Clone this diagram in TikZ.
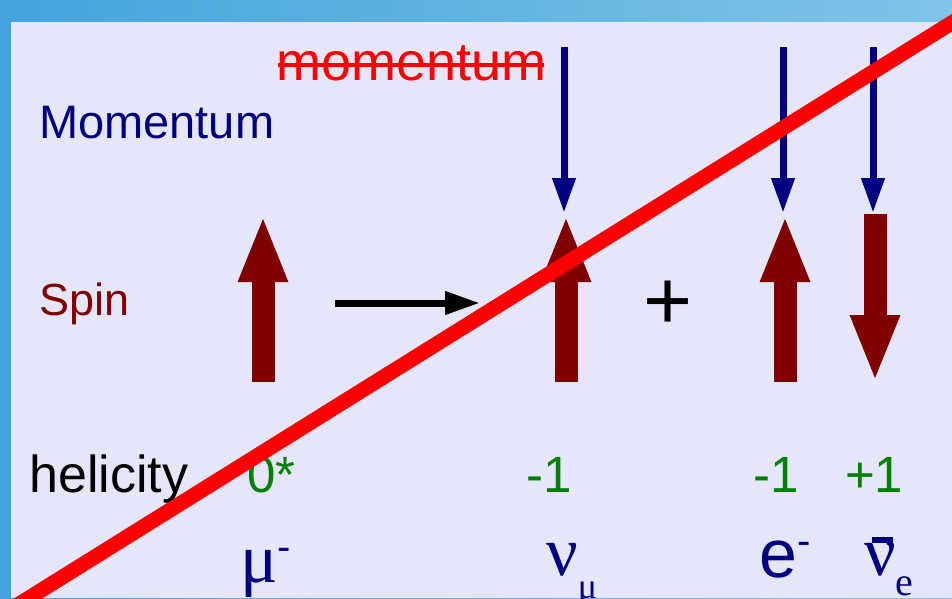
\documentclass[tikz,border=0pt]{standalone}
\usepackage{fontspec}
\setmainfont{Liberation Sans}
\newfontfamily\serifgreek{Liberation Serif}
\usetikzlibrary{arrows.meta}
\definecolor{navyblue}{RGB}{0,0,128}
\definecolor{spinred}{RGB}{128,0,0}
\definecolor{helgreen}{RGB}{0,128,0}
\definecolor{slidebg}{RGB}{230,230,250}
\definecolor{frameleft}{RGB}{68,163,220}
\definecolor{frameright}{RGB}{128,196,232}

\begin{document}
\begin{tikzpicture}[x=1pt, y=-1pt,
    spinarrow/.style={line width=23pt, spinred, -{Triangle[width=45pt,length=67pt]}},
    momarrow/.style={line width=7pt, navyblue, -{Triangle[width=22pt,length=35pt]}},
    decayarrow/.style={line width=7pt, black, -{Triangle[width=22pt,length=35pt]}},
    lbl/.style={anchor=base west, inner sep=0pt},
    hel/.style={lbl, helgreen, font=\fontsize{51}{51}\selectfont},
    particle/.style={lbl, navyblue, font=\serifgreek\fontsize{70}{70}\selectfont}]
    \useasboundingbox (0,0) rectangle (952,598);
    \shade[left color=frameleft, right color=frameright] (0,0) rectangle (952,598);
    \fill[slidebg] (11,22) rectangle (952,598);

    \node[lbl, navyblue, font=\fontsize{47}{47}\selectfont] (momlabel) at (39,138) {Momentum};
    \node[lbl, spinred, font=\fontsize{45}{45}\selectfont] (spinlabel) at (39,315) {Spin};
    \node[lbl, font=\fontsize{52}{52}\selectfont] (hellabel) at (29,492) {helicity};
    \node[lbl, red, font=\fontsize{54}{54}\selectfont] (strike) at (276,80) {momentum};
    \draw[red, line width=4pt] ([xshift=2pt,yshift=15pt]strike.base west)
        -- ([xshift=-2pt,yshift=15pt]strike.base east);

    % spin
    \draw[spinarrow] (263,382) -- (263,215);
    \draw[spinarrow] (566,382) -- (566,215);
    \draw[spinarrow] (785,382) -- (785,215);
    \draw[spinarrow] (875,214) -- (875,382);

    % momentum
    \draw[momarrow] (564,47) -- (564,213);
    \draw[momarrow] (783,47) -- (783,213);
    \draw[momarrow] (873,47) -- (873,213);

    \coordinate (decayfrom) at (335,303);
    \coordinate (decayto) at (480,303);
    \draw[decayarrow] (decayfrom) -- (decayto);
    \node[inner sep=0pt, font=\fontsize{84}{84}\selectfont] (plus) at (668,305) {+};

    \node[hel] (helmu) at (247,492) {0*};
    \node[hel] (helnumu) at (526,492) {-1};
    \node[hel] (hele) at (753,492) {-1};
    \node[hel] (helnue) at (845,492) {+1};

    \node[particle] (mu) at (240,582)
        {μ\raisebox{22pt}{\rmfamily\fontsize{40}{40}\selectfont -}};
    \node[particle] (numu) at (546,575)
        {ν\raisebox{-23pt}{\fontsize{36}{36}\selectfont μ}};
    \node[particle, font=\fontsize{68}{68}\selectfont] (elec) at (759,577)
        {e\raisebox{23pt}{\fontsize{40}{40}\selectfont -}};
    \node[particle] (nubar) at (864,575)
        {\rlap{\kern8pt\rule[32pt]{21pt}{6pt}}ν\raisebox{-20pt}{\fontsize{40}{40}\selectfont e}};

    \begin{scope}
        \clip (0,0) rectangle (952,598);
        \draw[red, line width=15pt] (0,616) -- (990,-1);
    \end{scope}
\end{tikzpicture}
\end{document}
